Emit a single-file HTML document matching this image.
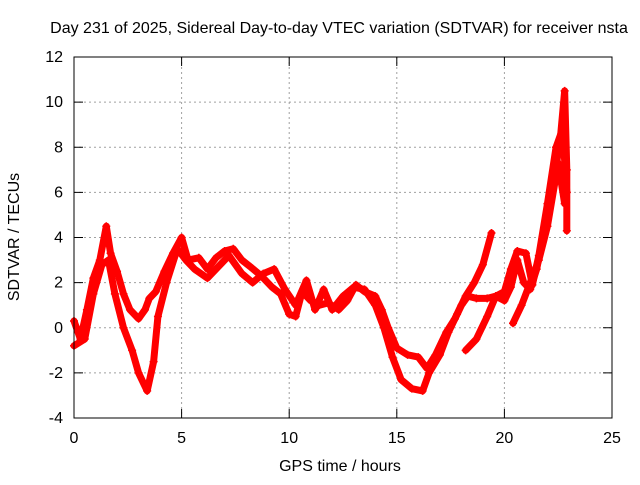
<!DOCTYPE html>
<html><head><meta charset="utf-8"><style>
body{margin:0;background:#fff}
svg text{font-family:"Liberation Sans",sans-serif;font-size:16px;fill:#000}
</style></head><body>
<svg id="c" width="640" height="480" xmlns="http://www.w3.org/2000/svg">
<text x="339" y="33" text-anchor="middle">Day 231 of 2025, Sidereal Day-to-day VTEC variation (SDTVAR) for receiver nsta</text>
<text x="340" y="471" text-anchor="middle">GPS time / hours</text>
<text transform="translate(19,237) rotate(-90)" text-anchor="middle">SDTVAR / TECUs</text>
<g id="grid"></g><g id="marks"></g>
<rect x="74" y="57" width="538" height="361" fill="none" stroke="#000"/>
</svg>
<script>
const xTicks=[0,5,10,15,20,25];
const yTicks=[-4,-2,0,2,4,6,8,10,12];
const seriesA=[[0,0.3],[0.3,-0.5],[0.6,0.8],[0.9,2.2],[1.2,3],[1.5,4.5],[1.7,3.3],[2.0,2.5],[2.3,1.5],[2.6,0.8],[3.0,0.4],[3.3,0.8],[3.5,1.3],[3.8,1.6],[4.2,2.5],[4.6,3.3],[5.0,4.0],[5.3,3.0],[5.8,3.1],[6.2,2.6],[6.6,3.1],[7.0,3.4],[7.4,3.5],[7.8,3.0],[8.2,2.7],[8.7,2.3],[9.2,1.8],[9.6,1.5],[10.0,0.6],[10.3,0.5],[10.6,1.6],[11.0,1.2],[11.4,1.0],[11.8,1.1],[12.3,0.8],[12.7,1.2],[13.1,1.9],[13.5,1.6],[14.0,1.4],[14.3,0.8],[14.6,0],[15.0,-0.9],[15.5,-1.2],[16.0,-1.3],[16.4,-1.8],[16.8,-1.2],[17.3,-0.2],[17.7,0.4],[18.0,1.0],[18.3,1.4],[18.7,1.3],[19.2,1.3],[19.6,1.4],[20.0,1.6],[20.3,2.6],[20.6,3.4],[21.0,3.3],[21.3,1.9],[21.6,3.2],[22.0,5.5],[22.4,8.0],[22.7,8.8],[22.9,6]];
const seriesB=[[0,-0.8],[0.5,-0.5],[0.9,1.5],[1.3,2.8],[1.6,3],[1.9,1.5],[2.3,0],[2.7,-1],[3.0,-2.0],[3.4,-2.8],[3.7,-1.5],[3.9,0.5],[4.3,2],[4.8,3.5],[5.2,3.0],[5.6,2.6],[6.2,2.2],[6.8,2.8],[7.2,3.2],[7.8,2.4],[8.3,2.0],[8.8,2.4],[9.3,2.6],[9.8,1.7],[10.3,1.0],[10.8,2.1],[11.2,0.8],[11.6,1.7],[12.0,0.8],[12.5,1.4],[13.0,1.8],[13.5,1.7],[14.0,1.0],[14.4,0],[14.8,-1.3],[15.2,-2.3],[15.7,-2.7],[16.2,-2.8],[16.5,-2.0],[17.0,-1.2],[17.4,-0.2],[17.8,0.6],[18.2,1.4],[18.6,2.0],[19.0,2.8],[19.4,4.2]];
const seriesC=[[18.2,-1.0],[18.7,-0.5],[19.2,0.5],[19.6,1.4],[20.0,1.2],[20.3,1.8],[20.6,3.0],[20.9,2.0],[21.2,1.7],[21.5,2.6],[21.9,4.5],[22.3,6.5],[22.6,8.4],[22.8,10.5],[22.9,7],[22.9,4.3]];
const seriesD=[[20.4,0.2],[20.8,1.0],[21.2,2.0],[21.6,3.0],[22.0,4.5],[22.5,7.3],[22.8,5.5]];
const NS="http://www.w3.org/2000/svg";
const X=v=>74+v*538/25, Y=v=>418-(v+4)*361/16;
const g=document.getElementById('grid'), m=document.getElementById('marks');
function el(t,a,p){const e=document.createElementNS(NS,t);for(const k in a)e.setAttribute(k,a[k]);p.appendChild(e);return e;}
xTicks.forEach(t=>{
 if(t>0&&t<25){const l=el('line',{x1:X(t),x2:X(t),y1:57,y2:418,stroke:'#a0a0a0','stroke-dasharray':'2,3'},g);
 
 }
 el('line',{x1:X(t),x2:X(t),y1:418,y2:409,stroke:'#000'},g);
 el('line',{x1:X(t),x2:X(t),y1:57,y2:66,stroke:'#000'},g);
 const tx=el('text',{x:X(t),y:443,'text-anchor':'middle'},g);tx.textContent=t;
 
 
});
yTicks.forEach(t=>{
 if(t>-4&&t<12){const l=el('line',{x1:74,x2:612,y1:Y(t),y2:Y(t),stroke:'#a0a0a0','stroke-dasharray':'2,3'},g);
 
 }
 el('line',{x1:74,x2:83,y1:Y(t),y2:Y(t),stroke:'#000'},g);
 el('line',{x1:603,x2:612,y1:Y(t),y2:Y(t),stroke:'#000'},g);
 const tx=el('text',{x:63,y:Y(t)+5,'text-anchor':'end'},g);tx.textContent=t;
 
 
});
[seriesA,seriesB,seriesC,seriesD].forEach((s,i)=>{
 const p=el('polyline',{points:s.map(d=>X(d[0])+','+Y(d[1])).join(' '),fill:'none',stroke:'#ff0000','stroke-width':7,'stroke-linejoin':'round','stroke-linecap':'round'},m);
 
 
 s.forEach(d=>{
  const c=el('path',{d:`M${X(d[0])-4},${Y(d[1])}h8M${X(d[0])},${Y(d[1])-4}v8`,stroke:'#ff0000','stroke-width':1.5},m);
  
  
 });
});
</script>
</body></html>
